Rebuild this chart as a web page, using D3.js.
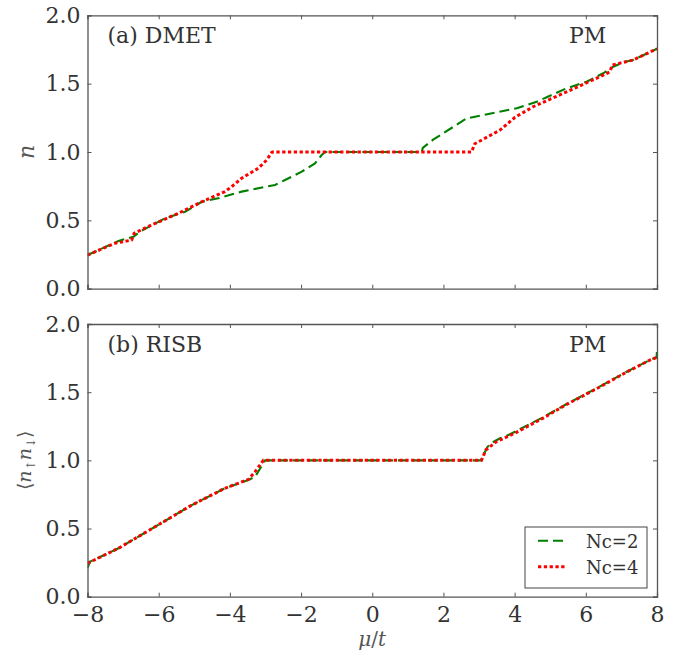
<!DOCTYPE html>
<html>
<head>
<meta charset="utf-8">
<script src="https://d3js.org/d3.v7.min.js"></script>
<style>
  body { margin: 0; background: #fff; }
  svg text { font-family: "DejaVu Serif", "Liberation Serif", serif; fill: #333; }
  .axis path, .axis line { stroke: #555; }
</style>
</head>
<body>
<svg id="chart" width="689" height="660"></svg>
<script>
// chemical potential mu/t and occupancies
const muDmetNc2 = [-8, -7.13, -6.71, -6.53, -5.82, -5.26, -4.79, -4.33, -3.67, -2.73, -2.45, -1.98, -1.61, -1.42, -1.33, 1.39, 1.42, 1.71, 2.65, 3.12, 4.06, 4.62, 4.90, 5.46, 6.02, 6.49, 6.77, 7.05, 7.33, 8.0];
const nDmetNc2  = [0.246, 0.349, 0.38, 0.417, 0.515, 0.563, 0.636, 0.661, 0.71, 0.759, 0.795, 0.856, 0.917, 0.978, 1.0, 1.0, 1.03, 1.09, 1.246, 1.27, 1.32, 1.368, 1.40, 1.466, 1.514, 1.576, 1.624, 1.656, 1.673, 1.755];

const muDmetNc4 = [-8, -7.23, -6.76, -6.69, -6.2, -5.45, -4.79, -4.14, -3.95, -3.67, -3.2, -2.97, -2.83, -2.8, 2.79, 2.88, 3.59, 4.01, 4.52, 5.46, 6.40, 6.68, 6.74, 7.33, 8.0];
const nDmetNc4  = [0.246, 0.332, 0.356, 0.405, 0.466, 0.551, 0.636, 0.71, 0.746, 0.808, 0.881, 0.94, 0.995, 1.0, 1.0, 1.06, 1.16, 1.254, 1.331, 1.44, 1.551, 1.587, 1.636, 1.673, 1.755];

const muRisbNc2 = [-8, -7.93, -7.13, -6.1, -5.07, -4.14, -3.48, -3.29, -3.15, -3.01, 3.05, 3.23, 3.33, 3.59, 3.78, 4.01, 4.80, 5.46, 6.30, 7.15, 7.80, 7.99, 8.0];
const nRisbNc2  = [0.21, 0.257, 0.355, 0.513, 0.672, 0.795, 0.856, 0.88, 0.94, 1.0, 1.0, 1.096, 1.125, 1.162, 1.18, 1.21, 1.316, 1.413, 1.528, 1.65, 1.736, 1.756, 1.82];

const muRisbNc4 = [-8, -7.13, -6.1, -5.07, -4.14, -3.48, -3.29, -3.06, 3.07, 3.19, 3.49, 4.01, 4.80, 5.46, 6.30, 7.15, 7.80, 8.0];
const nRisbNc4  = [0.245, 0.355, 0.513, 0.672, 0.795, 0.86, 0.917, 1.0, 1.0, 1.076, 1.137, 1.2, 1.31, 1.41, 1.525, 1.648, 1.735, 1.756];

const xTicks = [-8, -6, -4, -2, 0, 2, 4, 6, 8];
const yTicks = [0, 0.5, 1.0, 1.5, 2.0];
const seriesNames = ["Nc=2", "Nc=4"];

const FONT = '"DejaVu Serif", "Liberation Serif", serif';
const svg = d3.select("#chart");
const left = 87.5, right = 657;

const x = d3.scaleLinear().domain([-8, 8]).range([left, right]);

const green = "#008000", red = "#ff0000";
const styles = [
  { color: green, width: 2.1, dash: "10,5" },
  { color: red, width: 3, dash: "3.3,2.5" }
];

const panels = [
  { top: 15.3, bottom: 288.7, title: "(a) DMET", xlabels: false,
    series: [[muDmetNc2, nDmetNc2], [muDmetNc4, nDmetNc4]] },
  { top: 324, bottom: 596.7, title: "(b) RISB", xlabels: true,
    series: [[muRisbNc2, nRisbNc2], [muRisbNc4, nRisbNc4]] }
];

panels.forEach((p, i) => {
  const y = d3.scaleLinear().domain([0, 2]).range([p.bottom, p.top]);
  const g = svg.append("g");

  g.append("clipPath").attr("id", "clip" + i)
    .append("rect").attr("x", left).attr("y", p.top)
    .attr("width", right - left).attr("height", p.bottom - p.top);

  const line = d3.line().x(d => x(d[0])).y(d => y(d[1]));

  p.series.forEach((s, k) => {
    const pts = s[0].map((m, j) => [m, s[1][j]]);
    g.append("path")
      .attr("clip-path", "url(#clip" + i + ")")
      .attr("d", line(pts))
      .attr("fill", "none")
      .attr("stroke", styles[k].color)
      .attr("stroke-width", styles[k].width)
      .attr("stroke-dasharray", styles[k].dash);
  });

  // axes, ticks pointing in on all four sides
  const bottomAx = g.append("g").attr("class", "axis")
    .attr("transform", `translate(0,${p.bottom})`)
    .call(d3.axisBottom(x).tickValues(xTicks).tickSize(-4).tickPadding(10)
      .tickFormat(p.xlabels ? d3.format("d") : ""));
  const topAx = g.append("g").attr("class", "axis")
    .attr("transform", `translate(0,${p.top})`)
    .call(d3.axisTop(x).tickValues(xTicks).tickSize(-4).tickFormat(""));
  const leftAx = g.append("g").attr("class", "axis")
    .attr("transform", `translate(${left},0)`)
    .call(d3.axisLeft(y).tickValues(yTicks).tickSize(-4).tickPadding(7)
      .tickFormat(d3.format(".1f")));
  const rightAx = g.append("g").attr("class", "axis")
    .attr("transform", `translate(${right},0)`)
    .call(d3.axisRight(y).tickValues(yTicks).tickSize(-4).tickFormat(""));

  [bottomAx, topAx, leftAx, rightAx].forEach(a => {
    a.attr("font-family", FONT).attr("font-size", 22);
    a.select(".domain").attr("stroke", "#555").attr("stroke-width", 1.3);
    a.selectAll("text").attr("fill", "#333");
  });

  g.append("text").attr("x", left + 20).attr("y", p.top + 28)
    .style("font-size", "22px").text(p.title);
  g.append("text").attr("x", 569).attr("y", p.top + 28)
    .style("font-size", "22px").text("PM");

  const yl = g.append("text")
    .attr("transform", `translate(${i === 0 ? 34 : 31},${(p.top + p.bottom) / 2}) rotate(-90)`)
    .attr("text-anchor", "middle")
    .style("font-size", i === 0 ? "22px" : "19px")
    .style("font-style", "italic")
    .style("fill", "#555");
  if (i === 0) {
    yl.text("n");
  } else {
    yl.append("tspan").style("font-style", "normal").text("\u27E8");
    yl.append("tspan").text("n");
    yl.append("tspan").attr("dy", 4).style("font-size", "12px").style("font-style", "normal").text("\u2191");
    yl.append("tspan").attr("dy", -4).text("n");
    yl.append("tspan").attr("dy", 4).style("font-size", "12px").style("font-style", "normal").text("\u2193");
    yl.append("tspan").attr("dy", -4).style("font-style", "normal").text("\u27E9");
  }

  if (i === 1) {
    const lg = g.append("g");
    lg.append("rect").attr("x", 525).attr("y", 527).attr("width", 122).attr("height", 61)
      .attr("fill", "#fff").attr("stroke", "#444").attr("stroke-width", 1);
    seriesNames.forEach((name, k) => {
      const yy = 540.7 + k * 26;
      lg.append("line").attr("x1", 538).attr("x2", 566).attr("y1", yy).attr("y2", yy)
        .attr("stroke", styles[k].color).attr("stroke-width", styles[k].width)
        .attr("stroke-dasharray", styles[k].dash);
      lg.append("text").attr("x", 586).attr("y", yy + 7)
        .style("font-size", "18px").text(name);
    });
  }
});

// x label
const xl = svg.append("text").attr("x", x(0)).attr("y", 646)
  .attr("text-anchor", "middle").style("font-size", "20px").style("fill", "#555");
xl.append("tspan").style("font-style", "italic").text("\u03BC");
xl.append("tspan").text("/");
xl.append("tspan").style("font-style", "italic").text("t");
</script>
</body>
</html>
